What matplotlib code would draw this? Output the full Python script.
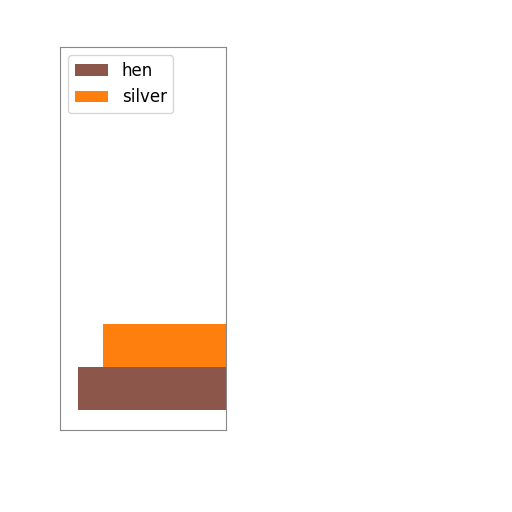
import matplotlib
matplotlib.use("Agg")
import matplotlib.pyplot as plt

labels = ["hen", "silver"]
values = [12.0, 10.0]
colors = ["#8c564b", "#ff7f0e"]

fig = plt.figure(figsize=(5.12, 5.12), dpi=100)
ax = fig.add_axes([60/512, 1 - 430/512, 166/512, 383/512])
for i, (lab, v, c) in enumerate(zip(labels, values, colors)):
    ax.barh(i, v, height=1.0, color=c, label=lab)
ax.set_xlim(13.46, 0)
ax.set_ylim(-0.97, 7.95)
ax.set_xticks([])
ax.set_yticks([])
for s in ax.spines.values():
    s.set_color("#888888")
ax.legend(loc="upper left", fontsize=12)
fig.savefig("out.png", dpi=100)
